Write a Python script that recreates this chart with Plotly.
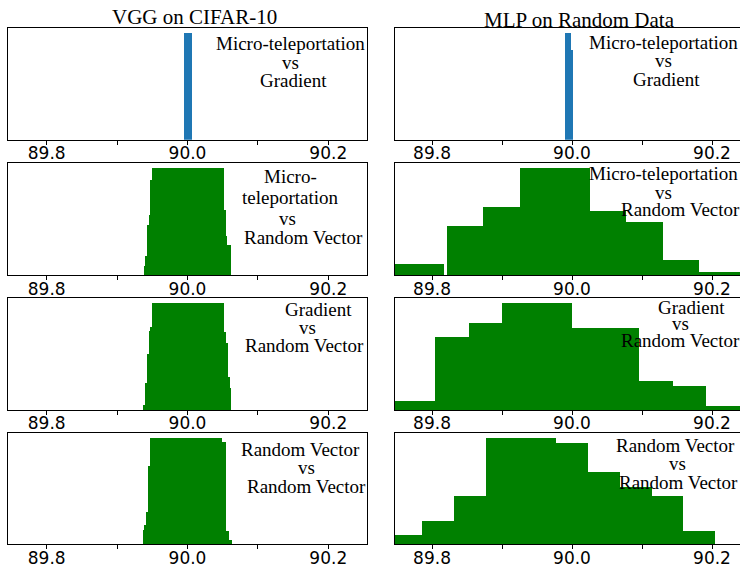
import plotly.graph_objects as go

# ---------------- data ----------------
col_titles = ["VGG on CIFAR-10", "MLP on Random Data"]
tick_vals = [89.8, 89.9, 90.0, 90.1, 90.2]
tick_text = ["89.8", "", "90.0", "", "90.2"]

# VGG on CIFAR-10 (left column): bin low edge, bin high edge, count (normalised, max = 100)
vgg_mt_grad_lo = [89.9954]
vgg_mt_grad_hi = [90.0059]
vgg_mt_grad_n = [100]

vgg_mt_rv_lo = [89.9382, 89.9410, 89.9429, 89.9453, 89.9477, 89.9496, 90.0519, 90.0543, 90.0561]
vgg_mt_rv_hi = [89.9410, 89.9429, 89.9453, 89.9477, 89.9496, 90.0519, 90.0543, 90.0561, 90.0614]
vgg_mt_rv_n = [8.7, 18.1, 47.2, 56.8, 89.4, 100, 61.3, 36.9, 28.4]

vgg_grad_rv_lo = [89.9368, 89.9396, 89.9429, 89.9453, 89.9467, 89.9496, 90.0519, 90.0547, 90.0580, 90.0594]
vgg_grad_rv_hi = [89.9396, 89.9429, 89.9453, 89.9467, 89.9496, 90.0519, 90.0547, 90.0580, 90.0594, 90.0618]
vgg_grad_rv_n = [4.3, 25.6, 52.2, 74.1, 78.1, 100, 73.5, 62.5, 31.2, 20.3]

vgg_rv_rv_lo = [89.9368, 89.9386, 89.9410, 89.9443, 89.9467, 90.0486, 90.0543, 90.0594]
vgg_rv_rv_hi = [89.9386, 89.9410, 89.9443, 89.9467, 90.0486, 90.0543, 90.0594, 90.0628]
vgg_rv_rv_n = [13.1, 18.5, 30.9, 74.0, 100, 96.5, 12.2, 4.4]

# MLP on Random Data (right column)
mlp_mt_grad_lo = [89.9900, 89.9986]
mlp_mt_grad_hi = [89.9986, 90.0010]
mlp_mt_grad_n = [100, 84.4]

mlp_mt_rv_lo = [89.7300, 89.8219, 89.8724, 89.9257, 90.0257, 90.0771, 90.1296, 90.1814]
mlp_mt_rv_hi = [89.8171, 89.8724, 89.9257, 90.0257, 90.0771, 90.1296, 90.1814, 90.2600]
mlp_mt_rv_n = [10.9, 46.3, 63.8, 100, 60.2, 50.0, 14.6, 3.4]

mlp_grad_rv_lo = [89.7300, 89.8043, 89.8529, 89.9004, 89.9996, 90.0957, 90.1439, 90.1910]
mlp_grad_rv_hi = [89.8043, 89.8529, 89.9004, 89.9996, 90.0957, 90.1439, 90.1910, 90.2600]
mlp_grad_rv_n = [8.7, 68.3, 81.4, 100, 76.7, 27.3, 22.6, 3.7]

mlp_rv_rv_lo = [89.7300, 89.7852, 89.8314, 89.8771, 89.9767, 90.0224, 90.0686, 90.1138, 90.1590]
mlp_rv_rv_hi = [89.7852, 89.8314, 89.8771, 89.9767, 90.0224, 90.0686, 90.1138, 90.1590, 90.2043]
mlp_rv_rv_n = [8.7, 21.9, 45.3, 100, 95.3, 68.1, 54.0, 45.3, 12.5]

labels_vgg = [
    ["Micro-teleportation", "vs", "Gradient"],
    ["Micro-", "teleportation", "vs", "Random Vector"],
    ["Gradient", "vs", "Random Vector"],
    ["Random Vector", "vs", "Random Vector"],
]
labels_mlp = [
    ["Micro-teleportation", "vs", "Gradient"],
    ["Micro-teleportation", "vs", "Random Vector"],
    ["Gradient", "vs", "Random Vector"],
    ["Random Vector", "vs", "Random Vector"],
]

# ---------------- layout geometry (pixels) ----------------
W, H = 740, 564
col_px = [(8, 367), (395, 740)]
row_px = [(27.5, 139.8), (163, 275.3), (298, 410), (433, 544.3)]
x_ranges = [[89.745, 90.255], [89.7471, 90.2400]]

# label line centres (x, y) in pixels
label_pos_vgg = [
    [(290, 43.7), (290, 62.3), (293, 81)],
    [(290, 176.5), (290, 197.7), (287.5, 218.7), (303.5, 237)],
    [(318.3, 309.7), (307.8, 327), (304.5, 345.4)],
    [(300.8, 449.7), (306.3, 467), (306, 486.4)],
]
label_pos_mlp = [
    [(663, 42), (663, 60.5), (666, 79)],
    [(663, 173.7), (663, 192), (680, 209.4)],
    [(691, 307), (680, 323), (680, 340.4)],
    [(675.5, 445.4), (677.5, 463), (678.8, 482)],
]
title_pos = [(194, 17), (579, 20.4)]

panels = [
    (0, 0, vgg_mt_grad_lo, vgg_mt_grad_hi, vgg_mt_grad_n, "#1f77b4"),
    (1, 0, vgg_mt_rv_lo, vgg_mt_rv_hi, vgg_mt_rv_n, "#008000"),
    (2, 0, vgg_grad_rv_lo, vgg_grad_rv_hi, vgg_grad_rv_n, "#008000"),
    (3, 0, vgg_rv_rv_lo, vgg_rv_rv_hi, vgg_rv_rv_n, "#008000"),
    (0, 1, mlp_mt_grad_lo, mlp_mt_grad_hi, mlp_mt_grad_n, "#1f77b4"),
    (1, 1, mlp_mt_rv_lo, mlp_mt_rv_hi, mlp_mt_rv_n, "#008000"),
    (2, 1, mlp_grad_rv_lo, mlp_grad_rv_hi, mlp_grad_rv_n, "#008000"),
    (3, 1, mlp_rv_rv_lo, mlp_rv_rv_hi, mlp_rv_rv_n, "#008000"),
]

fig = go.Figure()
layout = dict(
    width=W, height=H, autosize=False,
    margin=dict(l=0, r=0, t=0, b=0, pad=0, autoexpand=False),
    paper_bgcolor="white", plot_bgcolor="white",
    showlegend=False, barmode="overlay", bargap=0,
)

for i, (r, c, lo, hi, n, color) in enumerate(panels):
    k = i + 1
    xa = "x" if k == 1 else f"x{k}"
    ya = "y" if k == 1 else f"y{k}"
    centers = [(a + b) / 2 for a, b in zip(lo, hi)]
    widths = [b - a for a, b in zip(lo, hi)]
    fig.add_trace(go.Bar(
        x=centers, y=n, width=widths, base=0,
        marker=dict(color=color, line=dict(width=0)),
        xaxis=xa, yaxis=ya, hoverinfo="skip",
    ))
    x0, x1 = col_px[c]
    y0, y1 = row_px[r]
    layout["xaxis" if k == 1 else f"xaxis{k}"] = dict(
        domain=[x0 / W, x1 / W], anchor=ya, range=x_ranges[c],
        showgrid=False, zeroline=False, automargin=False,
        showline=True, linecolor="black", linewidth=1, mirror=True,
        ticks="outside", ticklen=4, tickwidth=1, tickcolor="black",
        ticklabelstandoff=-6,
        tickmode="array", tickvals=tick_vals, ticktext=tick_text,
        tickfont=dict(family="DejaVu Sans", size=17, color="black"),
        fixedrange=True,
    )
    layout["yaxis" if k == 1 else f"yaxis{k}"] = dict(
        domain=[1 - y1 / H, 1 - y0 / H], anchor=xa, range=[0, 105],
        showgrid=False, zeroline=False, showticklabels=False, ticks="",
        automargin=False,
        showline=True, linecolor="black", linewidth=1,
        mirror=(c == 0), fixedrange=True,
    )

annotations = []
for c, (tx, ty) in enumerate(title_pos):
    annotations.append(dict(
        text=col_titles[c], x=tx / W, y=1 - ty / H, xref="paper", yref="paper",
        xanchor="center", yanchor="middle", showarrow=False,
        font=dict(family="Liberation Serif", size=21, color="black"),
    ))
for labels, positions in ((labels_vgg, label_pos_vgg), (labels_mlp, label_pos_mlp)):
    for lines, pos in zip(labels, positions):
        for txt, (px, py) in zip(lines, pos):
            annotations.append(dict(
                text=txt, x=px / W, y=1 - py / H, xref="paper", yref="paper",
                xanchor="center", yanchor="middle", showarrow=False,
                font=dict(family="Liberation Serif", size=19, color="black"),
            ))
layout["annotations"] = annotations

fig.update_layout(**layout)
fig.write_html("out.html")
